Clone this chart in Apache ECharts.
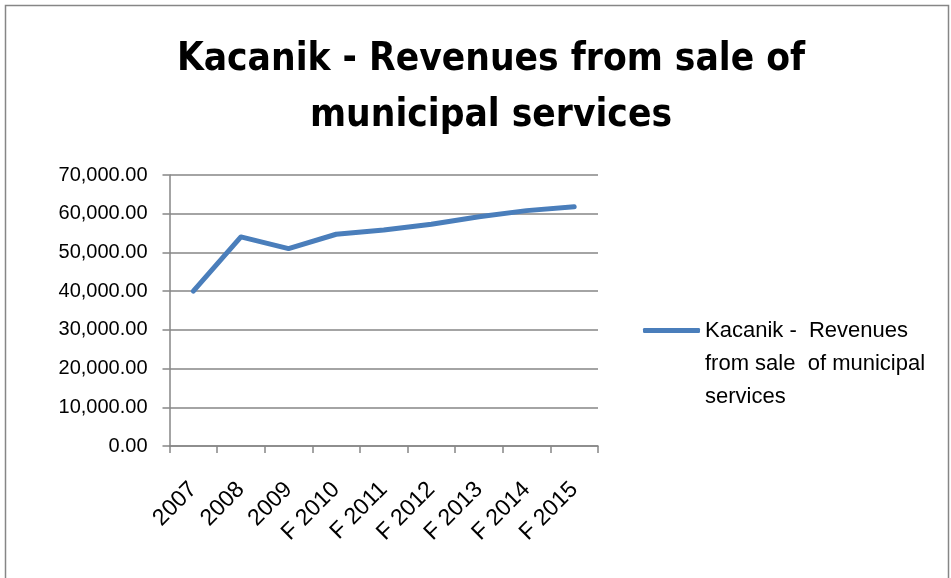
<!DOCTYPE html>
<html><head><meta charset="utf-8">
<script src="https://cdn.jsdelivr.net/npm/echarts@6/dist/echarts.min.js"></script>
<style>html,body{margin:0;padding:0;background:#fff}#c{width:951px;height:578px}</style>
</head><body><div id="c"></div>
<script>
const categories = ['2007','2008','2009','F 2010','F 2011','F 2012','F 2013','F 2014','F 2015'];
const revenues = [40000, 54000, 51000, 54700, 55800, 57300, 59200, 60800, 61800];
const seriesName = 'Kacanik -  Revenues from sale  of municipal services';
const yTicks = {min: 0, max: 70000, interval: 10000};

const chart = echarts.init(document.getElementById('c'), null, {renderer: 'canvas'});
const font = 'Liberation Sans';
chart.setOption({
  animation: false,
  backgroundColor: '#fff',
  graphic: [{type: 'rect', shape: {x: 5.5, y: 5.5, width: 943, height: 600}, style: {fill: 'none', stroke: '#868686', lineWidth: 1.5}, silent: true}],
  title: {
    text: 'Kacanik - Revenues from sale of\nmunicipal services',
    left: 486, top: 27, textAlign: 'center',
    textStyle: {fontFamily: '"DejaVu Sans Condensed", "Liberation Sans", sans-serif', fontWeight: 'bold', fontSize: 38.5, lineHeight: 56, color: '#000'}
  },
  grid: {left: 169.5, right: 353, top: 175, bottom: 132, containLabel: false},
  legend: {
    left: 638, top: 243, orient: 'vertical',
    icon: 'roundRect',
    itemWidth: 57, itemHeight: 5, itemGap: 0,
    formatter: () => '\n\nKacanik -  Revenues\nfrom sale  of municipal\nservices',
    textStyle: {fontFamily: font, fontSize: 22, lineHeight: 33, color: '#000'}
  },
  xAxis: {
    type: 'category', data: categories, boundaryGap: true,
    axisLine: {lineStyle: {color: '#868686', width: 1.5}},
    axisTick: {show: true, length: 7, lineStyle: {color: '#868686', width: 1.5}},
    axisLabel: {rotate: 45, fontFamily: font, fontSize: 23, color: '#000', margin: 40, interval: 0}
  },
  yAxis: {
    type: 'value', min: yTicks.min, max: yTicks.max, interval: yTicks.interval,
    axisLine: {show: true, lineStyle: {color: '#868686', width: 1.5}},
    axisTick: {show: true, length: 7, lineStyle: {color: '#868686', width: 1.5}},
    splitLine: {lineStyle: {color: '#868686', width: 1.5}},
    axisLabel: {fontFamily: font, fontSize: 20, color: '#000', margin: 22,
      formatter: v => v.toLocaleString('en-US', {minimumFractionDigits: 2, maximumFractionDigits: 2})}
  },
  series: [{
    name: seriesName, type: 'line', data: revenues, symbol: 'none',
    lineStyle: {color: '#4A7EBB', width: 5, cap: 'round', join: 'round'},
    itemStyle: {color: '#4A7EBB'}
  }]
});
</script></body></html>
